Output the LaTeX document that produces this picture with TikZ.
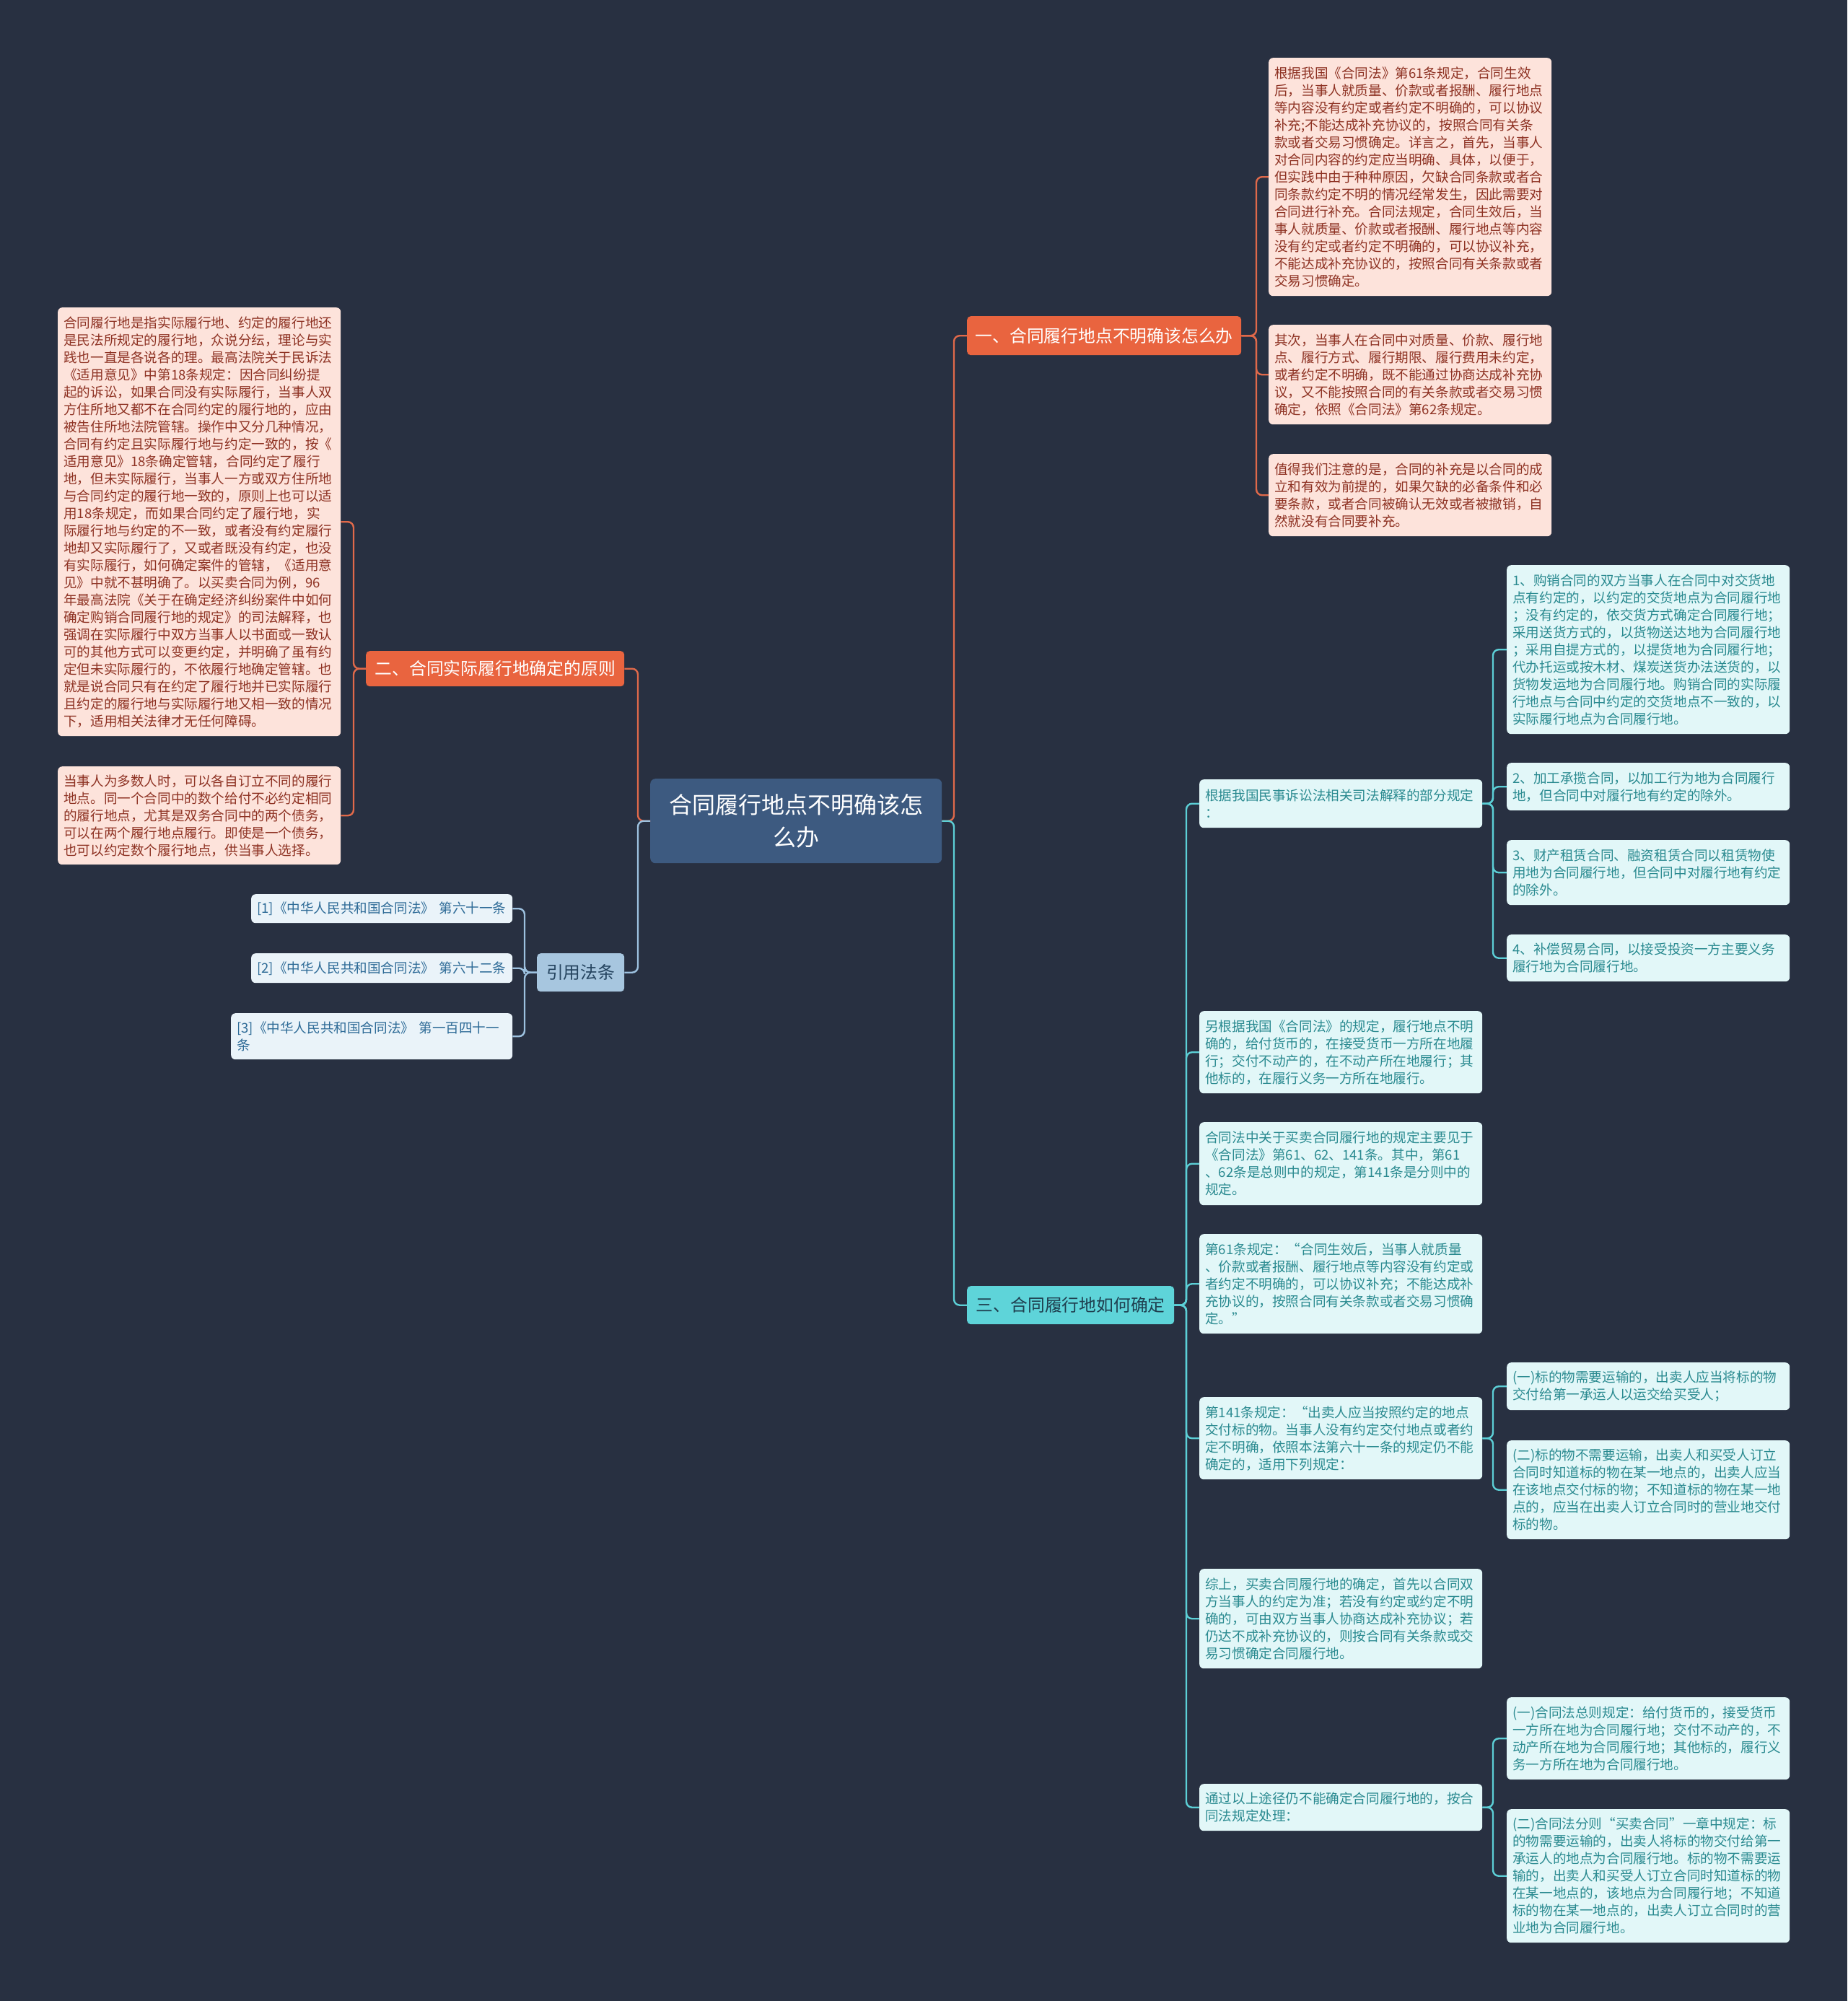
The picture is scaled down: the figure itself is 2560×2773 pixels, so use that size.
\documentclass[tikz,border=0pt]{standalone}
\usepackage{fontspec}
\setmainfont{Noto Sans CJK SC}
\definecolor{bgc}{HTML}{283041}
\definecolor{pinkfill}{HTML}{FDE3DB}
\definecolor{pinktext}{HTML}{8E3223}
\definecolor{orangec}{HTML}{E9643F}
\definecolor{orangeline}{HTML}{E0694A}
\definecolor{cyanc}{HTML}{5ED4D9}
\definecolor{cyanline}{HTML}{5CCFD6}
\definecolor{cyantext}{HTML}{1F3F4F}
\definecolor{lcfill}{HTML}{E2F7F8}
\definecolor{tealtext}{HTML}{2A8A90}
\definecolor{bluec}{HTML}{A7C6DF}
\definecolor{bluetext}{HTML}{25445F}
\definecolor{blueline}{HTML}{9DC1DF}
\definecolor{citfill}{HTML}{EAF3F9}
\definecolor{cittext}{HTML}{2E6B97}
\definecolor{cenfill}{HTML}{3D5A80}
\tikzset{
  leaf/.style={rounded corners=6pt, anchor=north west, inner xsep=8pt, inner ysep=0pt,
    align=left, text width=376pt, font=\fontsize{18.6}{24}\selectfont},
  pbox/.style={leaf, fill=pinkfill, text=pinktext},
  cbox/.style={leaf, fill=lcfill, text=tealtext},
  rbox/.style={leaf, fill=citfill, text=cittext},
  branch/.style={rounded corners=5pt, anchor=north west, inner sep=0pt, align=center,
    font=\fontsize{23.8}{28}\selectfont},
  conn/.style={line width=2.4pt, rounded corners=8pt},
}
\begin{document}
\begin{tikzpicture}[x=1pt,y=-1pt]
\useasboundingbox (0,0) rectangle (2560,2773);
\fill[bgc] (0,0) rectangle (2560,2773);

% trunk coordinates
\coordinate (tR) at (1322,0);
\coordinate (tL) at (884,0);
\coordinate (t1) at (1741,0);
\coordinate (t2) at (490,0);
\coordinate (t3) at (1644,0);
\coordinate (t4) at (727,0);
\coordinate (tE) at (2069,0);

% central
\node[rounded corners=7pt, anchor=north west, fill=cenfill, text=white, align=center,
  minimum width=404pt, minimum height=117pt, inner sep=0pt,
  font=\fontsize{32}{45}\selectfont] (cen) at (901,1079) {合同履行地点不明确该怎\\么办};

% branches
\node[branch, fill=orangec, text=white, minimum width=380pt, minimum height=54pt] (b1) at (1340,438) {一、合同履行地点不明确该怎么办};
\node[branch, fill=orangec, text=white, minimum width=358pt, minimum height=49pt] (b2) at (507,902) {二、合同实际履行地确定的原则};
\node[branch, fill=cyanc, text=cyantext, minimum width=287pt, minimum height=53pt] (b3) at (1340,1782) {三、合同履行地如何确定};
\node[branch, fill=bluec, text=bluetext, minimum width=121pt, minimum height=53pt] (b4) at (744,1321) {引用法条};

% branch 1 children
\node[pbox, minimum height=330pt] (c1) at (1758,80) {根据我国《合同法》第61条规定，合同生效\\后，当事人就质量、价款或者报酬、履行地点\\等内容没有约定或者约定不明确的，可以协议\\补充;不能达成补充协议的，按照合同有关条\\款或者交易习惯确定。详言之，首先，当事人\\对合同内容的约定应当明确、具体，以便于，\\但实践中由于种种原因，欠缺合同条款或者合\\同条款约定不明的情况经常发生，因此需要对\\合同进行补充。合同法规定，合同生效后，当\\事人就质量、价款或者报酬、履行地点等内容\\没有约定或者约定不明确的，可以协议补充，\\不能达成补充协议的，按照合同有关条款或者\\交易习惯确定。};
\node[pbox, minimum height=138pt] (c2) at (1758,450) {其次，当事人在合同中对质量、价款、履行地\\点、履行方式、履行期限、履行费用未约定，\\或者约定不明确，既不能通过协商达成补充协\\议，又不能按照合同的有关条款或者交易习惯\\确定，依照《合同法》第62条规定。};
\node[pbox, minimum height=114pt] (c3) at (1758,629) {值得我们注意的是，合同的补充是以合同的成\\立和有效为前提的，如果欠缺的必备条件和必\\要条款，或者合同被确认无效或者被撤销，自\\然就没有合同要补充。};

% branch 2 children
\node[pbox, minimum height=594pt] (d1) at (80,426) {合同履行地是指实际履行地、约定的履行地还\\是民法所规定的履行地，众说分纭，理论与实\\践也一直是各说各的理。最高法院关于民诉法\\《适用意见》中第18条规定：因合同纠纷提\\起的诉讼，如果合同没有实际履行，当事人双\\方住所地又都不在合同约定的履行地的，应由\\被告住所地法院管辖。操作中又分几种情况，\\合同有约定且实际履行地与约定一致的，按《\\适用意见》18条确定管辖，合同约定了履行\\地，但未实际履行，当事人一方或双方住所地\\与合同约定的履行地一致的，原则上也可以适\\用18条规定，而如果合同约定了履行地，实\\际履行地与约定的不一致，或者没有约定履行\\地却又实际履行了，又或者既没有约定，也没\\有实际履行，如何确定案件的管辖，《适用意\\见》中就不甚明确了。以买卖合同为例，96\\年最高法院《关于在确定经济纠纷案件中如何\\确定购销合同履行地的规定》的司法解释，也\\强调在实际履行中双方当事人以书面或一致认\\可的其他方式可以变更约定，并明确了虽有约\\定但未实际履行的，不依履行地确定管辖。也\\就是说合同只有在约定了履行地并已实际履行\\且约定的履行地与实际履行地又相一致的情况\\下，适用相关法律才无任何障碍。};
\node[pbox, minimum height=136pt] (d2) at (80,1062) {当事人为多数人时，可以各自订立不同的履行\\地点。同一个合同中的数个给付不必约定相同\\的履行地点，尤其是双务合同中的两个债务，\\可以在两个履行地点履行。即使是一个债务，\\也可以约定数个履行地点，供当事人选择。};

% citations
\node[rbox, text width=346pt, minimum height=40pt] (r1) at (348,1239) {[1]《中华人民共和国合同法》 第六十一条};
\node[rbox, text width=346pt, minimum height=41pt] (r2) at (348,1321) {[2]《中华人民共和国合同法》 第六十二条};
\node[rbox, text width=374pt, minimum height=64pt] (r3) at (320,1404) {[3]《中华人民共和国合同法》 第一百四十一\\条};

% branch 3 children
\node[cbox, minimum height=67pt] (e1) at (1662,1080) {根据我国民事诉讼法相关司法解释的部分规定\\：};
\node[cbox, minimum height=114pt] (e2) at (1662,1401) {另根据我国《合同法》的规定，履行地点不明\\确的，给付货币的，在接受货币一方所在地履\\行；交付不动产的，在不动产所在地履行；其\\他标的，在履行义务一方所在地履行。};
\node[cbox, minimum height=115pt] (e3) at (1662,1555) {合同法中关于买卖合同履行地的规定主要见于\\《合同法》第61、62、141条。其中，第61\\、62条是总则中的规定，第141条是分则中的\\规定。};
\node[cbox, minimum height=138pt] (e4) at (1662,1710) {第61条规定：“合同生效后，当事人就质量\\、价款或者报酬、履行地点等内容没有约定或\\者约定不明确的，可以协议补充；不能达成补\\充协议的，按照合同有关条款或者交易习惯确\\定。”};
\node[cbox, minimum height=114pt] (e5) at (1662,1936) {第141条规定：“出卖人应当按照约定的地点\\交付标的物。当事人没有约定交付地点或者约\\定不明确，依照本法第六十一条的规定仍不能\\确定的，适用下列规定：};
\node[cbox, minimum height=138pt] (e6) at (1662,2174) {综上，买卖合同履行地的确定，首先以合同双\\方当事人的约定为准；若没有约定或约定不明\\确的，可由双方当事人协商达成补充协议；若\\仍达不成补充协议的，则按合同有关条款或交\\易习惯确定合同履行地。};
\node[cbox, minimum height=65pt] (e7) at (1662,2472) {通过以上途径仍不能确定合同履行地的，按合\\同法规定处理：};

% e1 children
\node[cbox, minimum height=234pt] (f1) at (2088,783) {1、购销合同的双方当事人在合同中对交货地\\点有约定的，以约定的交货地点为合同履行地\\；没有约定的，依交货方式确定合同履行地；\\采用送货方式的，以货物送达地为合同履行地\\；采用自提方式的，以提货地为合同履行地；\\代办托运或按木材、煤炭送货办法送货的，以\\货物发运地为合同履行地。购销合同的实际履\\行地点与合同中约定的交货地点不一致的，以\\实际履行地点为合同履行地。};
\node[cbox, minimum height=66pt] (f2) at (2088,1057) {2、加工承揽合同，以加工行为地为合同履行\\地，但合同中对履行地有约定的除外。};
\node[cbox, minimum height=90pt] (f3) at (2088,1164) {3、财产租赁合同、融资租赁合同以租赁物使\\用地为合同履行地，但合同中对履行地有约定\\的除外。};
\node[cbox, minimum height=65pt] (f4) at (2088,1295) {4、补偿贸易合同，以接受投资一方主要义务\\履行地为合同履行地。};

% e5 children
\node[cbox, minimum height=66pt] (g1) at (2088,1888) {(一)标的物需要运输的，出卖人应当将标的物\\交付给第一承运人以运交给买受人；};
\node[cbox, minimum height=137pt] (g2) at (2088,1996) {(二)标的物不需要运输，出卖人和买受人订立\\合同时知道标的物在某一地点的，出卖人应当\\在该地点交付标的物；不知道标的物在某一地\\点的，应当在出卖人订立合同时的营业地交付\\标的物。};

% e7 children
\node[cbox, minimum height=114pt] (h1) at (2088,2352) {(一)合同法总则规定：给付货币的，接受货币\\一方所在地为合同履行地；交付不动产的，不\\动产所在地为合同履行地；其他标的，履行义\\务一方所在地为合同履行地。};
\node[cbox, minimum height=185pt] (h2) at (2088,2507) {(二)合同法分则“买卖合同”一章中规定：标\\的物需要运输的，出卖人将标的物交付给第一\\承运人的地点为合同履行地。标的物不需要运\\输的，出卖人和买受人订立合同时知道标的物\\在某一地点的，该地点为合同履行地；不知道\\标的物在某一地点的，出卖人订立合同时的营\\业地为合同履行地。};

% connectors
\draw[conn, orangeline] (cen.east) -- (cen.east -| tR) |- (b1.west);
\draw[conn, cyanline] (cen.east) -- (cen.east -| tR) |- (b3.west);
\draw[conn, orangeline] (cen.west) -- (cen.west -| tL) |- (b2.east);
\draw[conn, blueline] (cen.west) -- (cen.west -| tL) |- (b4.east);
\foreach \c in {c1,c2,c3} \draw[conn, orangeline] (b1.east) -- (b1.east -| t1) |- (\c.west);
\foreach \c in {d1,d2} \draw[conn, orangeline] (b2.west) -- (b2.west -| t2) |- (\c.east);
\foreach \c in {r1,r2,r3} \draw[conn, blueline] (b4.west) -- (b4.west -| t4) |- (\c.east);
\foreach \c in {e1,e2,e3,e4,e5,e6,e7} \draw[conn, cyanline] (b3.east) -- (b3.east -| t3) |- (\c.west);
\foreach \c in {f1,f2,f3,f4} \draw[conn, cyanline] (e1.east) -- (e1.east -| tE) |- (\c.west);
\foreach \c in {g1,g2} \draw[conn, cyanline] (e5.east) -- (e5.east -| tE) |- (\c.west);
\foreach \c in {h1,h2} \draw[conn, cyanline] (e7.east) -- (e7.east -| tE) |- (\c.west);
\end{tikzpicture}
\end{document}
